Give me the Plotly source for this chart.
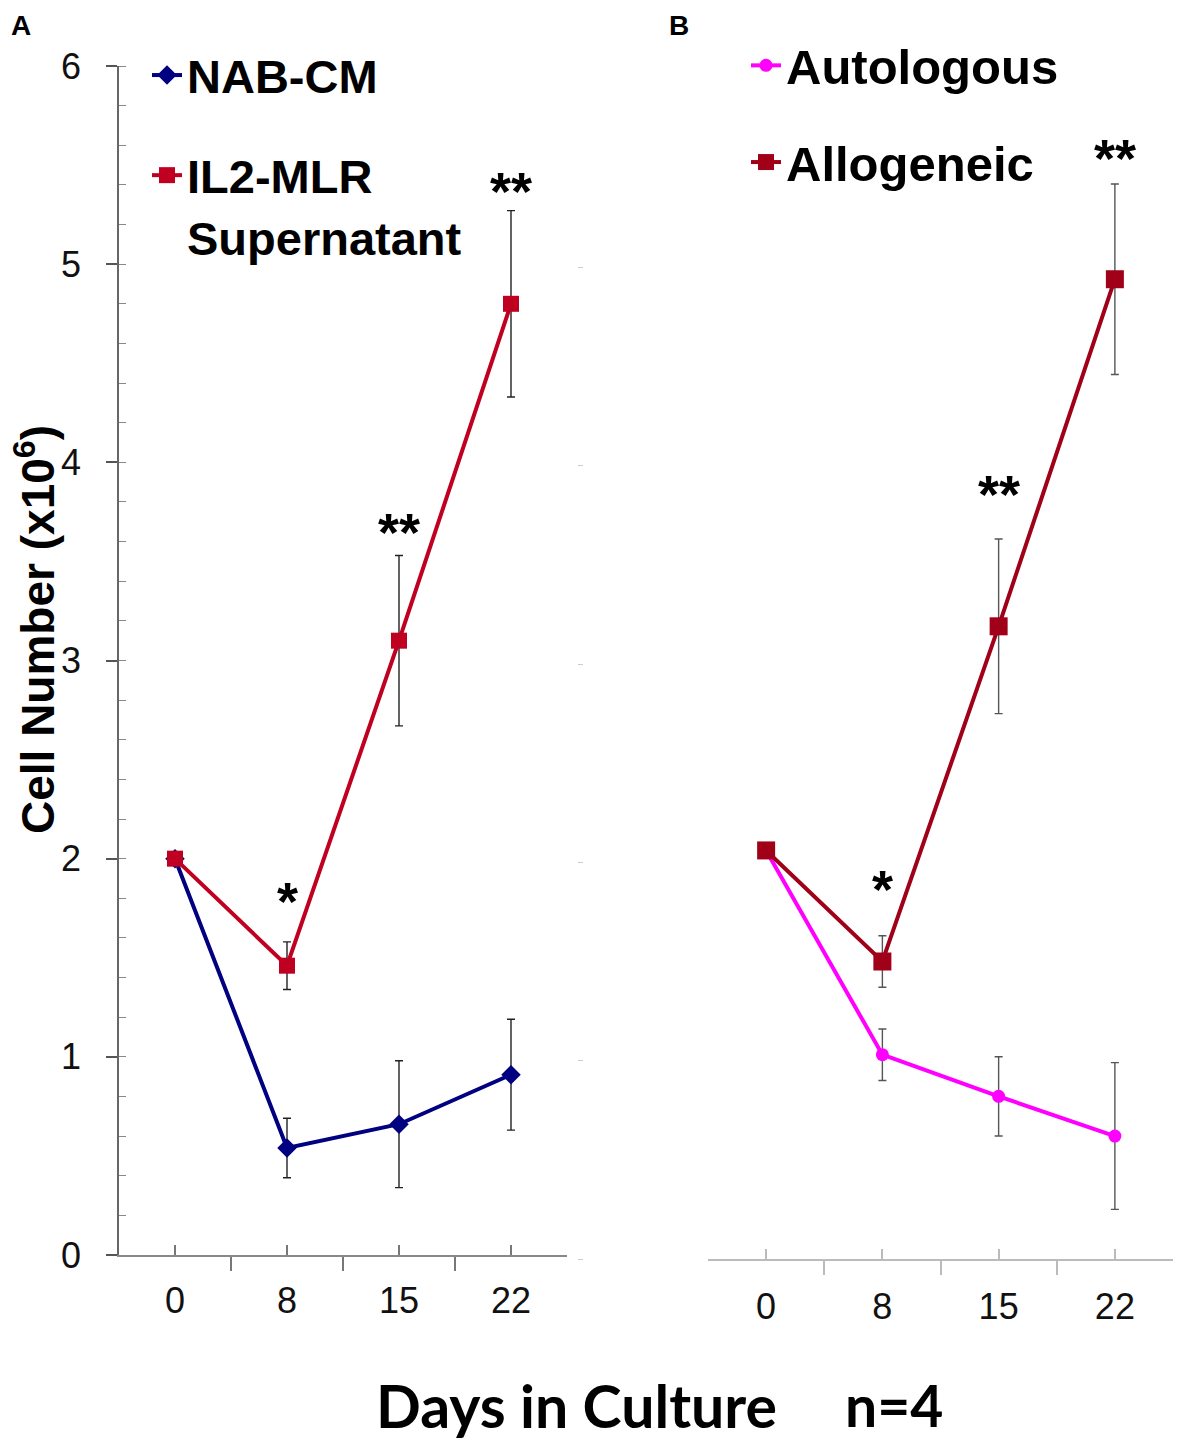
import plotly.graph_objects as go

W, H = 1181, 1441
OFF = 8  # page body margin

days = ["0", "8", "15", "22"]

# Panel A
nab_cm = [2.00, 0.54, 0.66, 0.91]
nab_cm_err = [0.0, 0.15, 0.32, 0.28]
il2_mlr = [2.00, 1.46, 3.10, 4.80]
il2_mlr_err = [0.0, 0.12, 0.43, 0.47]
sig_a = ["", "*", "**", "**"]

# Panel B
autologous = [2.06, 1.03, 0.82, 0.62]
autologous_err = [0.0, 0.13, 0.20, 0.37]
allogeneic = [2.06, 1.50, 3.19, 4.94]
allogeneic_err = [0.0, 0.13, 0.44, 0.48]
sig_b = ["", "*", "**", "**"]

y_ticks = [0, 1, 2, 3, 4, 5, 6]

NAVY = "#000080"
RED_A = "#C00020"
RED_B = "#A00018"
MAGENTA = "#FF00FF"
FONT = "Liberation Sans"

xi = list(range(len(days)))


def px(v):
    return (v - OFF) / W


def py(v):
    return 1 - (v - OFF) / H


fig = go.Figure()


def add_series(y, err, name, color, symbol, size, xa, ya, legend, errcolor):
    fig.add_trace(go.Scatter(
        x=xi, y=y, name="<b>" + name + "</b>", mode="lines+markers",
        line=dict(color=color, width=4),
        marker=dict(color=color, symbol=symbol, size=size),
        error_y=dict(type="data", array=err, color=errcolor, thickness=1.4, width=4),
        xaxis=xa, yaxis=ya, legend=legend, legendgroup=name,
    ))


add_series(nab_cm, nab_cm_err, "NAB-CM", NAVY, "diamond", 15, "x", "y", "legend", "#222")
add_series(il2_mlr, il2_mlr_err, "IL2-MLR<br>Supernatant", RED_A, "square", 16, "x", "y", "legend", "#222")
add_series(autologous, autologous_err, "Autologous", MAGENTA, "circle", 13, "x2", "y2", "legend2", "#555")
add_series(allogeneic, allogeneic_err, "Allogeneic", RED_B, "square", 18, "x2", "y2", "legend2", "#555")

# pixel shift of each significance mark relative to the top of its error bar
star_shift_a = [0, 9, -9, -12]
star_shift_b = [0, 15, 13, -6]

annotations = []
for xa, ya, vals, errs, sig, shifts in [("x", "y", il2_mlr, il2_mlr_err, sig_a, star_shift_a),
                                        ("x2", "y2", allogeneic, allogeneic_err, sig_b, star_shift_b)]:
    for i, s in enumerate(sig):
        if s:
            annotations.append(dict(
                x=xi[i], y=vals[i] + errs[i], xref=xa, yref=ya, text="<b>" + s + "</b>",
                showarrow=False, yanchor="bottom", yshift=shifts[i],
                font=dict(family=FONT, size=54, color="black")))

annotations += [
    dict(x=px(9), y=py(8), xref="paper", yref="paper", text="<b>A</b>", showarrow=False,
         xanchor="left", yanchor="top", font=dict(family=FONT, size=28, color="black")),
    dict(x=px(667), y=py(8), xref="paper", yref="paper", text="<b>B</b>", showarrow=False,
         xanchor="left", yanchor="top", font=dict(family=FONT, size=28, color="black")),
    dict(x=px(35), y=py(630), xref="paper", yref="paper",
         text="<b>Cell Number (x10<sup>6</sup>)</b>", showarrow=False, textangle=-90,
         xanchor="center", yanchor="middle", font=dict(family=FONT, size=46, color="black")),
    dict(x=px(576), y=py(1405), xref="paper", yref="paper", text="<b>Days in Culture</b>",
         showarrow=False, xanchor="center", yanchor="middle",
         font=dict(family="Lato", size=59, color="black")),
    dict(x=px(894), y=py(1405), xref="paper", yref="paper", text="<b>n=4</b>",
         showarrow=False, xanchor="center", yanchor="middle",
         font=dict(family="Lato", size=57, color="black")),
]

tickfont = dict(family=FONT, size=36, color="#111")

xaxis_common = dict(
    range=[-0.5, 3.5], tickmode="array", tickvals=xi, ticktext=days,
    ticks="inside", ticklen=10, tickwidth=1.5, showgrid=False, zeroline=False,
    showline=True, linewidth=1.5, tickfont=tickfont,
    minor=dict(tickmode="array", tickvals=[v - 0.5 for v in xi] + [xi[-1] + 0.5],
               ticks="outside", ticklen=14, tickwidth=1.5),
)

fig.update_layout(
    width=W, height=H, margin=dict(l=0, r=0, t=0, b=0, autoexpand=False),
    plot_bgcolor="white", paper_bgcolor="white", showlegend=True,
    xaxis=dict(domain=[px(119), px(567)], anchor="y", linecolor="#888", tickcolor="#777",
               minor_tickcolor="#777", ticklabelstandoff=13, **xaxis_common),
    yaxis=dict(domain=[py(1255), py(66)], range=[0, 6], anchor="x", tickmode="array",
               tickvals=y_ticks, ticks="outside", ticklen=11, tickwidth=1.5, tickcolor="#555",
               showline=True, linecolor="#666", linewidth=1.5, showgrid=False, zeroline=False,
               tickfont=tickfont, ticklabelstandoff=18,
               minor=dict(dtick=0.2, ticks="inside", ticklen=7, tickwidth=1, tickcolor="#888")),
    xaxis2=dict(domain=[px(708), px(1173)], anchor="y2", linecolor="#bbb", tickcolor="#bbb",
                minor_tickcolor="#bbb", ticklabelstandoff=15, **xaxis_common),
    yaxis2=dict(domain=[py(1259), py(69)], range=[0, 6], anchor="free",
                position=px(583), tickmode="array", tickvals=y_ticks[:-1], ticks="outside",
                ticklen=5, tickwidth=1, tickcolor="#ccc", showline=False, showgrid=False,
                zeroline=False, showticklabels=False),
    legend=dict(x=px(147), y=py(38), xanchor="left", yanchor="top", bgcolor="rgba(0,0,0,0)",
                font=dict(family=FONT, size=47, color="black"), tracegroupgap=36,
                valign="top", itemwidth=30),
    legend2=dict(x=px(746), y=py(27), xanchor="left", yanchor="top", bgcolor="rgba(0,0,0,0)",
                 font=dict(family=FONT, size=49, color="black"), tracegroupgap=30,
                 valign="top", itemwidth=30),
    annotations=annotations,
)

fig.write_html("out.html")
